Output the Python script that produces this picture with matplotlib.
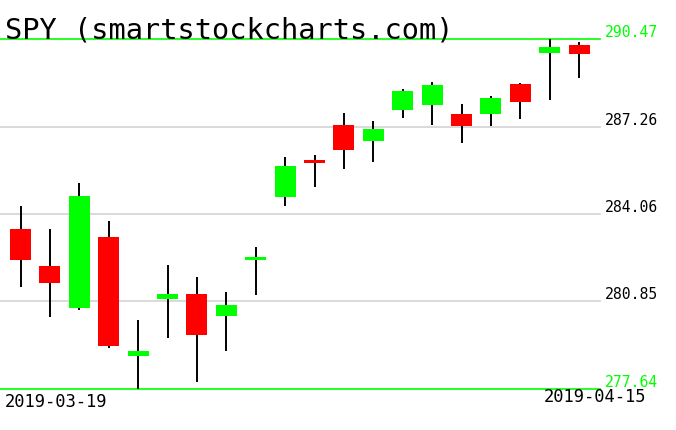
import numpy as np
import matplotlib
matplotlib.use("Agg")
import matplotlib.pyplot as plt

# --- data
dates = ["2019-03-19", "2019-03-20", "2019-03-21", "2019-03-22", "2019-03-25",
         "2019-03-26", "2019-03-27", "2019-03-28", "2019-03-29", "2019-04-01",
         "2019-04-02", "2019-04-03", "2019-04-04", "2019-04-05", "2019-04-08",
         "2019-04-09", "2019-04-10", "2019-04-11", "2019-04-12", "2019-04-15"]
opens = [283.51, 282.15, 280.62, 283.21, 278.86, 280.95, 281.12, 280.33, 282.37, 284.69,
         286.03, 287.33, 286.74, 287.88, 288.06, 287.72, 287.73, 288.82, 289.97, 290.25]
highs = [284.36, 283.51, 285.19, 283.80, 280.17, 282.19, 281.75, 281.20, 282.85, 286.14,
         286.23, 287.76, 287.46, 288.64, 288.89, 288.09, 288.38, 288.86, 290.47, 290.37]
lows = [281.39, 280.29, 280.55, 279.15, 277.64, 279.52, 277.91, 279.04, 281.10, 284.36,
        285.06, 285.72, 285.97, 287.59, 287.33, 286.67, 287.29, 287.55, 288.25, 289.05]
closes = [282.38, 281.54, 284.71, 279.23, 279.03, 281.12, 279.63, 280.72, 282.48, 285.81,
          285.94, 286.41, 287.17, 288.56, 288.78, 287.29, 288.31, 288.17, 290.18, 289.93]
price_levels = [290.47, 287.26, 284.06, 280.85, 277.64]

W, H = 676, 431
fig = plt.figure(figsize=(W / 100, H / 100), dpi=100, facecolor="white")
# plot area: x 0..600 px, y 40..390 px
ax = fig.add_axes([0, 1 - 390 / H, 600 / W, 350 / H])
ax.set_axis_off()

mono = "DejaVu Sans Mono"
x = np.arange(len(dates))
o = np.array(opens); c = np.array(closes)
up = c >= o

ax.set_xlim(-0.70, 19.71)
ax.set_ylim(min(price_levels), max(price_levels))

# horizontal levels
for i, lvl in enumerate(price_levels):
    edge = i == 0 or i == len(price_levels) - 1
    col = "#00ff00" if edge else "#d3d3d3"
    ax.axhline(lvl, color=col, lw=1.2, zorder=1, clip_on=False)
    ax.text(605 / 600, lvl, f"{lvl:.2f}", transform=ax.get_yaxis_transform(),
            ha="left", va="bottom", fontsize=10.6, family=mono,
            color="#00ff00" if edge else "black", clip_on=False)

# wicks then bodies
ax.vlines(x, lows, highs, color="black", lw=1.4, zorder=2, clip_on=False)
body_bot = np.minimum(o, c)
body_h = np.abs(c - o)
ax.bar(x, body_h, bottom=body_bot, width=0.714,
       color=np.where(up, "#00ff00", "#ff0000"), linewidth=0, zorder=3)

fig.text(5 / W, 1 - 38 / H, "SPY (smartstockcharts.com)", fontsize=20.6,
         family=mono, color="black", ha="left", va="baseline")
fig.text(5 / W, 1 - 393 / H, dates[0], fontsize=12.3, family=mono, ha="left", va="top")
fig.text(646 / W, 1 - 388 / H, dates[-1], fontsize=12.3, family=mono, ha="right", va="top")

fig.savefig("out.png", dpi=100)
